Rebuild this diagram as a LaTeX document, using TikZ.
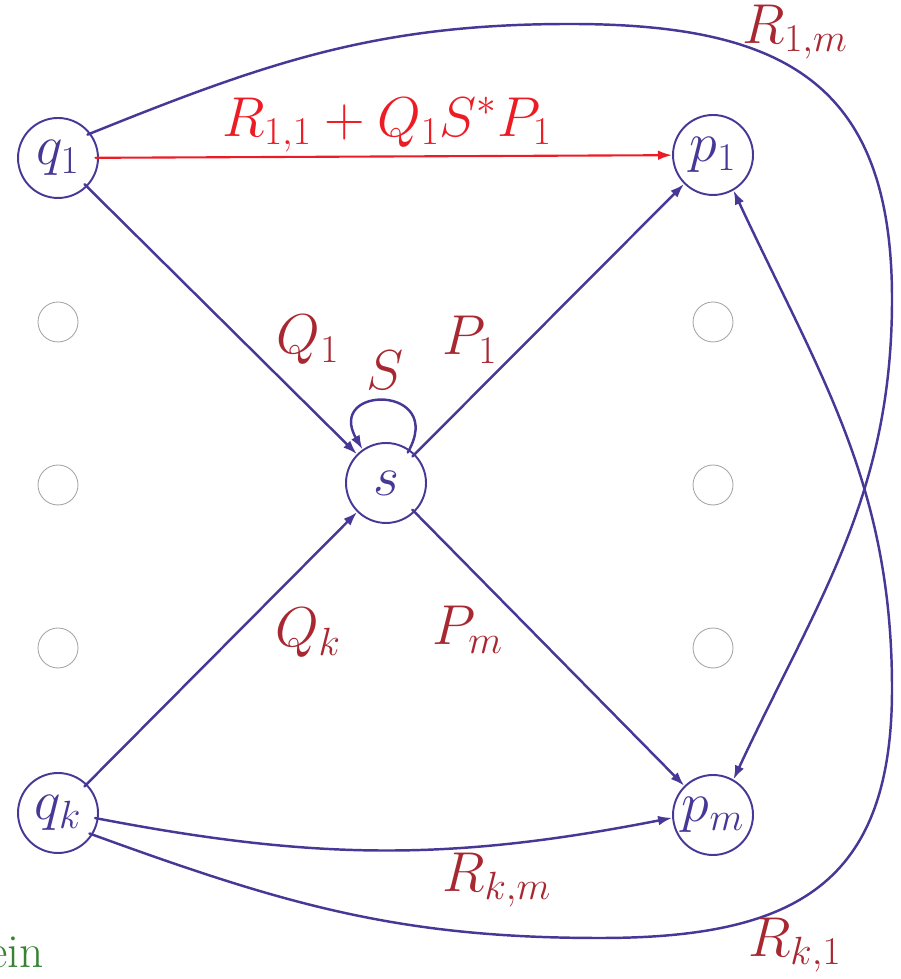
\documentclass[tikz,border=0pt]{standalone}
\usepackage{fix-cm}
\usetikzlibrary{arrows.meta}
\definecolor{edgeblue}{RGB}{70,56,150}
\definecolor{labred}{RGB}{168,40,50}
\definecolor{hotred}{RGB}{237,28,36}
\definecolor{eingreen}{RGB}{56,130,50}
\begin{document}
\begin{tikzpicture}[>={Latex[length=8pt,width=5.5pt]},line join=round,line cap=round,x=0.02cm,y=0.02cm,
	font=\fontsize{32}{37}\selectfont,
	state/.style={circle,draw=edgeblue,line width=1.1pt,minimum size=1.6cm,inner sep=0pt,text=edgeblue},
	ghost/.style={circle,draw=gray!70,line width=0.5pt,minimum size=0.8cm,inner sep=0pt},
	lab/.style={text=labred,inner sep=0pt},
	link/.style={->,draw=edgeblue,line width=1.4pt,shorten <=-2pt}]
	\useasboundingbox (0,0) rectangle (901,979);
	\node[state] (q1) at (58,821) {$q_1$};
	\node[state] (p1) at (713,824) {$p_1$};
	\node[state] (s) at (386,496) {$s$};
	\node[state] (qk) at (58,166) {$q_k$};
	\node[state] (pm) at (713,164) {$p_m$};
	\foreach \y [count=\i] in {657,494,331}{
		\node[ghost] (gl\i) at (58,\y) {};
		\node[ghost] (gr\i) at (713,\y) {};
	}
	\path
	(570,955) coordinate (T)
	(892,680) coordinate (E)
	(600,41) coordinate (B)
	(892,290) coordinate (F)
	;
	\draw[link,draw=hotred,line width=1.2pt] (q1) -- (p1);
	\foreach \p / \r in {q1/s,s/p1,qk/s,s/pm}
	\draw[link] (\p)--(\r);
	\draw[link] (s.55) .. controls +(60:75) and +(120:75) .. (s.125);
	\draw[link] (q1.37) to[out=22,in=180] (T) to[out=0,in=90,looseness=1.3] (E) to[out=-90,in=65] (pm.60);
	\draw[link] (qk.-32) to[out=-20,in=180] (B) to[out=0,in=-90,looseness=1.3] (F) to[out=90,in=-65] (p1.-60);
	\draw[link] (qk.-8) to[bend right=11] (pm.184);
	% labels
	\node[lab,text=hotred] (l11) at (387,854) {$R_{1,1}+Q_1S^*P_1$};
	\node[lab] (l1m) at (795,947) {$R_{1,m}$};
	\node[lab] (lq1) at (308,639) {$Q_1$};
	\node[lab] (ls) at (385,609) {$S$};
	\node[lab] (lp1) at (470,639) {$P_1$};
	\node[lab] (lqk) at (308,346) {$Q_k$};
	\node[lab] (lpm) at (468,349) {$P_m$};
	\node[lab] (lkm) at (497,99) {$R_{k,m}$};
	\node[lab] (lk1) at (795,34) {$R_{k,1}$};
	\node[text=eingreen,anchor=base west,inner sep=0pt,font=\fontsize{27}{31}\selectfont] (ein) at (-12,11) {ein};
\end{tikzpicture}
\end{document}
